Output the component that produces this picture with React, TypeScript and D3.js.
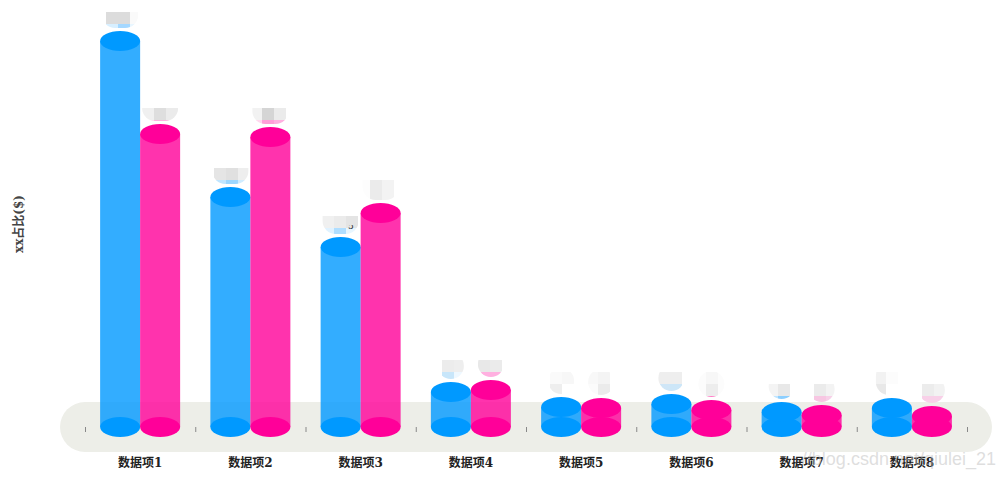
import React, { useEffect, useRef } from 'react';
import * as d3 from 'd3';

const categories = ['数据项1', '数据项2', '数据项3', '数据项4', '数据项5', '数据项6', '数据项7', '数据项8'];
const seriesA = [96.5, 57.5, 45, 8.75, 5, 5.75, 3.75, 4.75];
const seriesB = [73.25, 72.5, 53.5, 9.25, 4.75, 4.25, 3, 2.75];

// half width of each label bubble
const bubbleA = [18, 18, 18, 13, 13, 13, 13, 16];
const bubbleB = [18, 18, 18, 13, 13, 13, 13, 13];

// pixelated patches that cover the value labels, bottom row last ('' = nothing)
const maskA: string[][][] = [
  [['', '#dcdcdc', '#dcdcdc', '#fafafa'], ['', '#d7efff', '#a5d8ff', '#e8f6ff']],
  [['', '#e5e5e5', '#e0e0e0', '#eeeeee'], ['', '#c0e5ff', '#9dd7ff', '#d0ecff']],
  [['#f0f0f0', '#ebebeb', '#e4e4e4', ''], ['#e0f2ff', '#b0deff', '#e8f6ff', '']],
  [['', '#ececec', '#eeeeee', ''], ['', '#c8e6fa', '#eef8ff', '']],
  [['', '#fafafa', '#f7f7f7', ''], ['', '#eeeeee', '', '']],
  [['', '#eeeeee', '#eeeeee', ''], ['', '#cfe6f7', '#cce6f8', '']],
  [['', '#f4f4f4', '#e8e8e8', ''], ['', '#c0e5ff', '#8dcfff', '']],
  [['#fafafa', '#f2f2f2', '#fcfcfc', ''], ['', '#e8e8e8', '', '']],
];
const maskB: string[][][] = [
  [['#f0f0f0', '#dedede', '#ebebeb', ''], ['#ffd8ee', '#ffb0e0', '#ffb0e0', '']],
  [['#f2f2f2', '#d5d5d5', '#ebebeb', ''], ['#ffd8ee', '#ff9fd8', '#ffb0e0', '']],
  [['#fdfdfd', '#ebebeb', '#f3f3f3', ''], ['#fdfdfd', '#ebebeb', '#f3f3f3', '']],
  [['', '#e8e8e8', '#ebebeb', ''], ['', '#ffb0e0', '#ffb0e0', '']],
  [['', '#f8f8f8', '#f4f4f4', ''], ['', '#fbfbfb', '#ebebeb', '']],
  [['', '#fcfcfc', '#f7f7f7', '#fcfcfc'], ['', '#fcfcfc', '#ededed', '#fcfcfc'], ['', '', '#ff80c8', '']],
  [['', '#ebebeb', '#f3f3f3', ''], ['', '#f7c6e2', '#f7d0e8', '']],
  [['', '#ececec', '#f2f2f2', ''], ['', '#f8d0e8', '#f8d0e8', '']],
];

const width = 1004;
const height = 478;
const rx = 20;
const ry = 10;
const blue = '#0099ff';
const pink = '#ff0099';
const serif = '"DejaVu Serif", "Noto Sans CJK SC", serif';

const App: React.FC = () => {
  const svgRef = useRef<SVGSVGElement>(null);

  useEffect(() => {
    if (!svgRef.current) return;
    const svg = d3.select(svgRef.current);
    svg.selectAll('*').remove();

    const x = d3.scaleBand<string>().domain(categories).range([85, 967]);
    const y = d3.scaleLinear().domain([0, 100]).range([427, 27]);
    const base = y(0);

    // grey band behind the axis
    svg.append('rect')
      .attr('x', 60).attr('y', 402)
      .attr('width', 932).attr('height', 50)
      .attr('rx', 25)
      .attr('fill', '#edeee8');

    // tick marks on the band edges
    const edges = [...categories.map(c => x(c) as number), 967];
    svg.append('g').selectAll('line')
      .data(edges)
      .join('line')
      .attr('x1', d => d + 0.5).attr('x2', d => d + 0.5)
      .attr('y1', base).attr('y2', base + 5)
      .attr('stroke', '#888')
      .attr('stroke-width', 1);

    const defs = svg.append('defs');

    const drawSeries = (values: number[], color: string, side: number, masks: string[][][], halves: number[], name: string) => {
      const g = svg.append('g');
      values.forEach((v, i) => {
        const cx = (x(categories[i]) as number) + x.bandwidth() / 2 + side * rx;
        const top = y(v);

        // cylinder: body, bottom cap, top cap
        g.append('rect')
          .attr('x', cx - rx).attr('y', top)
          .attr('width', rx * 2).attr('height', base - top)
          .attr('fill', color)
          .attr('fill-opacity', 0.8);
        g.append('ellipse')
          .attr('cx', cx).attr('cy', base)
          .attr('rx', rx).attr('ry', ry)
          .attr('fill', color);
        g.append('ellipse')
          .attr('cx', cx).attr('cy', top)
          .attr('rx', rx).attr('ry', ry)
          .attr('fill', color);

        // label bubble, pixelated on a 12px grid of the picture
        const half = halves[i];
        const id = `bubble-${name}-${i}`;
        defs.append('clipPath').attr('id', id)
          .append('rect')
          .attr('x', cx - half).attr('y', top - 13 - half * 2)
          .attr('width', half * 2).attr('height', half * 2)
          .attr('rx', 13);
        const left = Math.floor((cx - 28) / 12) * 12 + 10;
        const bottom = Math.floor((top - 49) / 12) * 12 + 48;
        const rows = masks[i];
        const patch = g.append('g').attr('clip-path', `url(#${id})`);
        rows.forEach((row, r) => {
          row.forEach((shade, c) => {
            if (!shade) return;
            patch.append('rect')
              .attr('x', left + c * 12)
              .attr('y', bottom - (rows.length - r) * 12)
              .attr('width', 12).attr('height', 12)
              .attr('fill', shade)
              .attr('shape-rendering', 'crispEdges');
          });
        });
      });
    };

    drawSeries(seriesA, blue, -1, maskA, bubbleA, 'a');
    drawSeries(seriesB, pink, 1, maskB, bubbleB, 'b');

    // what is left of a value label beside the third patch
    defs.append('clipPath').attr('id', 'label-scrap')
      .append('rect')
      .attr('x', 346).attr('y', 225)
      .attr('width', 8).attr('height', 5);
    svg.append('text')
      .attr('x', 348).attr('y', 229)
      .attr('clip-path', 'url(#label-scrap)')
      .attr('font-family', serif)
      .attr('font-size', 9)
      .attr('fill', '#333')
      .text('5');

    // category labels
    svg.append('g').selectAll('text')
      .data(categories)
      .join('text')
      .attr('x', d => (x(d) as number) + x.bandwidth() / 2)
      .attr('y', 467)
      .attr('text-anchor', 'middle')
      .attr('font-family', serif)
      .attr('font-size', 12)
      .attr('font-weight', 'bold')
      .attr('fill', '#222')
      .text(d => d);

    // y axis title
    svg.append('text')
      .attr('transform', 'translate(23,224) rotate(-90)')
      .attr('text-anchor', 'middle')
      .attr('font-family', serif)
      .attr('font-size', 12)
      .attr('font-weight', 'bold')
      .attr('fill', '#444')
      .text('xx占比($)');

    // watermark
    svg.append('text')
      .attr('x', 996).attr('y', 465)
      .attr('text-anchor', 'end')
      .attr('font-family', '"Liberation Sans", Arial, sans-serif')
      .attr('font-size', 18)
      .attr('fill', 'rgba(190,190,190,0.5)')
      .text('//blog.csdn.net/qiulei_21');
  }, []);

  return (
    <svg
      ref={svgRef}
      width={width}
      height={height}
      style={{ position: 'absolute', left: 0, top: 0, display: 'block', background: '#fff' }}
    />
  );
};

export default App;
